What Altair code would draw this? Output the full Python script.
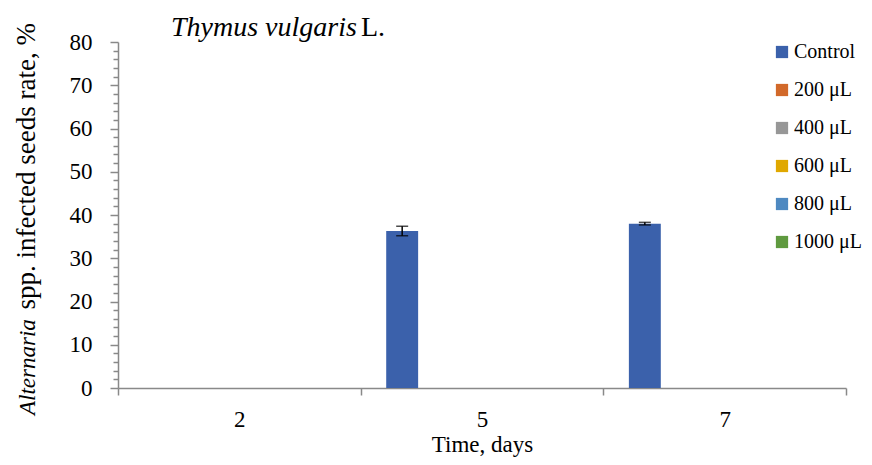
import altair as alt
import pandas as pd

days = ["2", "5", "7"]
series = ["Control", "200 μL", "400 μL", "600 μL", "800 μL", "1000 μL"]
control_vals = [0.0, 36.3, 38.0]
control_err = [0.0, 1.1, 0.3]
zero_vals = [0.0, 0.0, 0.0]
colors = ["#3B61AB", "#D2692A", "#979797", "#E0A800", "#4E89C1", "#5F9A3F"]
y_ticks = list(range(0, 81, 2))

values = {s: zero_vals for s in series}
values["Control"] = control_vals
errors = {s: zero_vals for s in series}
errors["Control"] = control_err

rows = []
for s in series:
    for d, v, e in zip(days, values[s], errors[s]):
        rows.append({"day": d, "series": s, "value": v, "lo": v - e, "hi": v + e, "err": e})
df = pd.DataFrame(rows)

W, H = 728, 346
FONT = "Liberation Serif"
AX = "#898989"

x = alt.X("day:N", sort=days,
          scale=alt.Scale(paddingInner=0, paddingOuter=0),
          axis=alt.Axis(title="Time, days", labelAngle=0, tickBand="extent",
                        tickSize=7, labelPadding=13, titlePadding=2))
xoff = alt.XOffset("series:N", sort=series,
                   scale=alt.Scale(paddingInner=0, paddingOuter=0.8))
yscale = alt.Scale(domain=[0, 80], nice=False)

bars = alt.Chart(df).mark_bar().encode(
    x=x, xOffset=xoff,
    y=alt.Y("value:Q", scale=yscale,
            axis=alt.Axis(title=None, values=y_ticks, tickCount=len(y_ticks),
                          labelOverlap=False,
                          labelExpr="datum.value % 10 === 0 ? datum.label : ''",
                          tickSize={"condition": {"test": "datum.value % 10 === 0", "value": 8}, "value": 5},
                          labelPadding=18)),
    color=alt.Color("series:N", sort=series,
                    scale=alt.Scale(domain=series, range=colors),
                    legend=alt.Legend(title=None, orient="none", legendX=654, legendY=0,
                                      symbolType="square", symbolSize=150, symbolStrokeWidth=0,
                                      labelFontSize=20, labelFont=FONT, labelColor="black",
                                      rowPadding=18, labelOffset=2))
)

eb = alt.Chart(df).transform_filter("datum.err > 0")
rule = eb.mark_rule(color="black", strokeWidth=1.5).encode(x=x, xOffset=xoff, y=alt.Y("lo:Q", scale=yscale), y2="hi:Q")
cap_hi = eb.mark_tick(color="black", size=12, thickness=1.5).encode(x=x, xOffset=xoff, y=alt.Y("hi:Q", scale=yscale))
cap_lo = eb.mark_tick(color="black", size=12, thickness=1.5).encode(x=x, xOffset=xoff, y=alt.Y("lo:Q", scale=yscale))

one = pd.DataFrame({"a": [0]})
t1 = alt.Chart(one).mark_text(text="Thymus vulgaris", font=FONT, fontSize=28, fontStyle="italic",
                              align="left", baseline="alphabetic", color="black").encode(
    x=alt.value(53), y=alt.value(-6))
t2 = alt.Chart(one).mark_text(text="L.", font=FONT, fontSize=28,
                              align="left", baseline="alphabetic", color="black").encode(
    x=alt.value(243), y=alt.value(-6))
y1 = alt.Chart(one).mark_text(text="Alternaria", font=FONT, fontSize=23, fontStyle="italic", angle=270,
                              align="left", baseline="alphabetic", color="black").encode(
    x=alt.value(-83), y=alt.value(373))
y2 = alt.Chart(one).mark_text(text="spp. infected seeds rate, %", font=FONT, fontSize=27, angle=270,
                              align="right", baseline="alphabetic", color="black").encode(
    x=alt.value(-83), y=alt.value(-19))

chart = alt.layer(bars, rule, cap_hi, cap_lo, t1, t2, y1, y2).properties(
    width=W, height=H,
    padding={"left": 110, "top": 34, "right": 18, "bottom": 69},
    autosize=alt.AutoSizeParams(type="none"),
).configure_view(stroke=None).configure_axis(
    domainColor=AX, domainWidth=1.5, tickColor=AX, tickWidth=1.5,
    labelFont=FONT, labelFontSize=23, labelColor="black",
    titleFont=FONT, titleFontSize=23, titleColor="black", titleFontWeight="normal",
    grid=False,
)

chart.save("out.html", embed_options={"renderer": "svg", "actions": False})
